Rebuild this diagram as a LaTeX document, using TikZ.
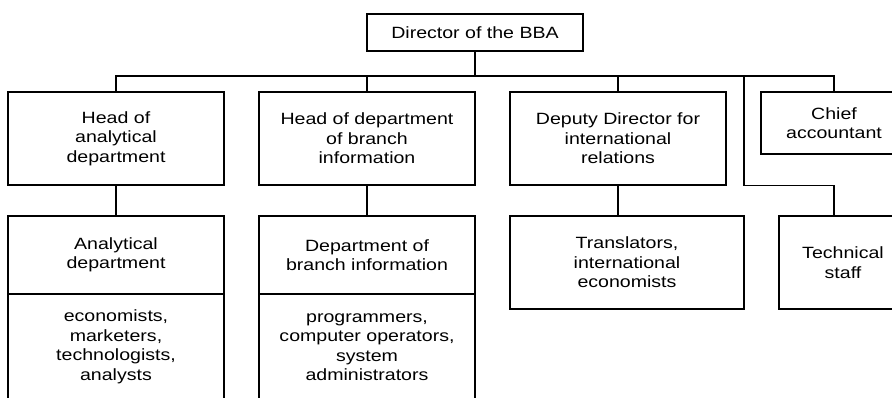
\documentclass[tikz,border=0pt]{standalone}
\usepackage{fontspec}
\setmainfont{Liberation Sans}[FakeStretch=1.2]
\usepackage{tikz}
\tikzset{
    orgbox/.style={draw, line width=1.2pt, align=center, inner sep=0pt,
        minimum width=216pt, minimum height=93pt},
}

\begin{document}
\begin{tikzpicture}[x=1pt, y=-1pt, line width=1.2pt,
        font=\fontsize{16.3}{19.5}\selectfont]
    \useasboundingbox (0,0) rectangle (892,397);
    \clip (0,0) rectangle (892,397);
    % top
    \node[orgbox, minimum height=37pt] (director) at (475,32.5) {Director of the BBA};
    % heads
    \node[orgbox] (headA) at (116,138.5) {Head of\\analytical\\department};
    \node[orgbox] (headB) at (367,138.5) {Head of department\\of branch\\information};
    \node[orgbox] (deputy) at (618,138.5) {Deputy Director for\\international\\relations};
    \node[orgbox, minimum width=146pt, minimum height=62pt] (chief) at (834,123) {Chief\\accountant};
    % departments
    \node[orgbox, minimum height=78pt] (anal) at (116,255) {Analytical\\department};
    \node[orgbox, minimum height=106pt] (analstaff) at (116,347) {economists,\\marketers,\\technologists,\\analysts};
    \node[orgbox, minimum height=78pt] (branch) at (367,255) {Department of\\branch information};
    \node[orgbox, minimum height=106pt] (branchstaff) at (367,347) {programmers,\\computer operators,\\system\\administrators};
    \node[orgbox, minimum width=234pt] (transl) at (627,262.5) {Translators,\\international\\economists};
    \node[orgbox, minimum width=128pt] (tech) at (843,262.5) {Technical\\staff};
    % links
    \coordinate (busR) at (834,76);
    \coordinate (bypass) at (744,76);
    \draw (headA.north) |- (busR) -- (chief.north);
    \draw (director.south) -- (director.south |- busR);
    \draw (headB.north) -- (headB.north |- busR);
    \draw (deputy.north) -- (deputy.north |- busR);
    \draw (headA.south) -- (anal.north);
    \draw (headB.south) -- (branch.north);
    \draw (deputy.south) -- (deputy.south |- transl.north);
    \draw (bypass) |- (headA.south -| chief.north) -- (chief.north |- tech.north);
\end{tikzpicture}
\end{document}
